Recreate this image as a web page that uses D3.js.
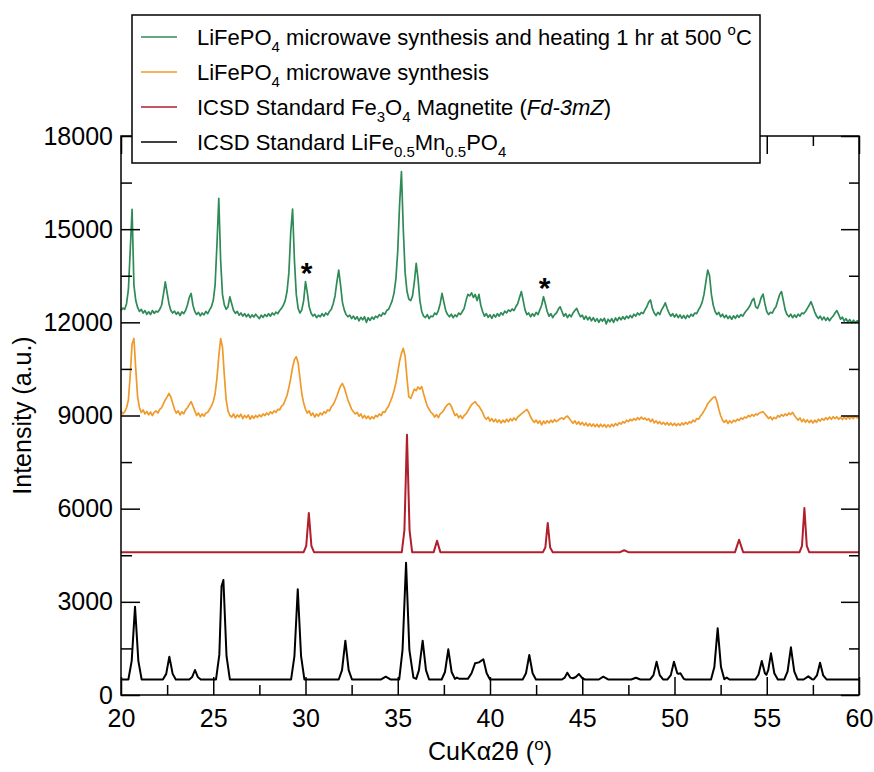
<!DOCTYPE html>
<html>
<head>
<meta charset="utf-8">
<script src="https://cdn.jsdelivr.net/npm/d3@7"></script>
<style>
  body { margin: 0; background: #fff; }
  svg { display: block; }
  text { font-family: "Liberation Sans", Arial, sans-serif; }
</style>
</head>
<body>
<div id="wrapper"></div>
<script>
// scan grid of the two measured patterns (2theta start / step)
const scanStart = 20;
const scanStep = 0.1;

// LiFePO4 microwave synthesis + 1 hr at 500 C (one value per 0.1 deg, 20 -> 60)
const heatedCounts = [
  12380,12460,12420,12600,13050,14300,15640,13200,12700,12480,
  12350,12420,12300,12380,12260,12340,12250,12380,12290,12360,
  12330,12420,12550,12900,13300,12950,12600,12380,12300,12360,
  12260,12330,12220,12340,12280,12380,12560,12800,12930,12550,
  12350,12250,12320,12210,12300,12240,12350,12280,12400,12500,
  12700,13200,14500,15990,14000,12900,12560,12420,12500,12820,
  12600,12380,12290,12350,12230,12300,12200,12280,12180,12260,
  12150,12240,12170,12260,12190,12120,12230,12160,12250,12190,
  12280,12200,12300,12240,12330,12280,12380,12450,12550,12700,
  13000,13600,14900,15650,14000,12900,12450,12300,12400,12700,
  13310,12950,12500,12300,12200,12260,12150,12230,12180,12280,
  12200,12300,12240,12350,12420,12600,12850,13300,13680,13200,
  12650,12400,12250,12180,12230,12120,12200,12100,12180,12050,
  12160,12080,12180,12000,12150,12060,12170,12100,12200,12150,
  12250,12200,12300,12260,12380,12420,12550,12700,12950,13400,
  14300,15800,16850,15000,13600,13000,12750,12700,12850,13300,
  13900,13400,12700,12350,12200,12150,12250,12120,12200,12180,
  12300,12250,12380,12600,12930,12650,12380,12250,12180,12260,
  12150,12240,12180,12300,12250,12350,12450,12700,12900,12850,
  12950,12800,12900,12700,12900,12550,12350,12200,12280,12160,
  12240,12130,12250,12170,12280,12200,12310,12240,12360,12300,
  12400,12350,12430,12380,12500,12600,12800,12990,12700,12400,
  12250,12300,12180,12280,12200,12320,12250,12400,12550,12825,
  12600,12350,12200,12280,12150,12250,12300,12420,12500,12350,
  12200,12280,12150,12250,12180,12300,12380,12450,12300,12180,
  12230,12100,12200,12080,12170,12050,12150,12030,12120,12000,
  12110,12040,12130,11950,12100,12020,12120,12000,12140,12050,
  12160,12080,12180,12100,12200,12130,12220,12150,12260,12200,
  12300,12240,12320,12280,12400,12500,12650,12720,12450,12300,
  12220,12320,12250,12400,12500,12630,12450,12300,12200,12280,
  12170,12260,12150,12240,12130,12220,12120,12230,12160,12260,
  12200,12300,12280,12400,12500,12650,12900,13300,13685,13500,
  12900,12550,12350,12250,12320,12180,12260,12150,12230,12120,
  12200,12100,12210,12130,12230,12160,12250,12200,12300,12380,
  12450,12550,12700,12770,12500,12450,12600,12800,12910,12600,
  12350,12250,12320,12300,12420,12500,12700,12900,12990,12700,
  12400,12250,12180,12260,12150,12240,12160,12260,12200,12300,
  12280,12350,12450,12550,12665,12500,12330,12200,12120,12200,
  12080,12170,12060,12150,12050,12140,12200,12300,12380,12250,
  12100,12170,12040,12120,12000,12090,11980,12070,11990,12050,
  12020
];

// LiFePO4 microwave synthesis (one value per 0.1 deg, 20 -> 60)
const microwaveCounts = [
  9150,9050,9120,9250,9500,10300,11300,11480,10500,9600,
  9250,9100,9180,9050,9130,9020,9110,9000,9100,9150,
  9080,9200,9250,9380,9500,9600,9715,9600,9400,9200,
  9080,9150,9020,9120,9050,9180,9250,9350,9445,9300,
  9150,9000,9080,8960,9050,8980,9080,9100,9200,9300,
  9450,9700,10200,10900,11480,11200,10300,9500,9150,9000,
  8950,9050,8920,9020,8950,9040,8900,9000,8930,9020,
  8880,8990,8910,9000,8940,9020,8960,9050,9000,9080,
  9020,9120,9060,9150,9100,9200,9180,9300,9350,9500,
  9650,9900,10200,10550,10800,10890,10700,10200,9700,9400,
  9200,9080,9150,9000,9080,8950,9050,8980,9080,9020,
  9120,9080,9180,9150,9280,9350,9480,9620,9800,9950,
  10030,9900,9700,9500,9350,9200,9120,9050,9100,8980,
  9050,8920,9000,8900,8980,8880,8960,8900,9000,8960,
  9050,9000,9120,9100,9220,9300,9450,9600,9800,10050,
  10400,10750,11000,11160,10900,10200,9600,9550,9700,9850,
  9800,9920,9850,9930,9700,9500,9300,9200,9100,9050,
  8950,9030,8930,9050,9100,9180,9280,9350,9390,9300,
  9150,9000,9050,8930,9000,8900,9000,9050,9150,9250,
  9350,9400,9445,9350,9300,9200,9100,8950,8880,8950,
  8820,8900,8800,8880,8780,8860,8760,8850,8780,8880,
  8800,8900,8830,8920,8850,8950,9000,9050,9100,9150,
  9195,9100,8950,8850,8780,8850,8750,8830,8700,8820,
  8740,8830,8760,8850,8780,8870,8800,8850,8900,8920,
  8880,8950,8980,8900,8820,8750,8830,8720,8800,8700,
  8780,8680,8760,8660,8740,8650,8730,8640,8720,8630,
  8720,8640,8710,8620,8700,8630,8720,8650,8740,8680,
  8770,8720,8800,8760,8850,8800,8880,8830,8900,8850,
  8930,8870,8950,8880,8920,8850,8900,8800,8880,8760,
  8830,8740,8800,8720,8780,8700,8770,8690,8760,8680,
  8750,8670,8740,8680,8760,8700,8780,8720,8800,8760,
  8850,8800,8900,8880,8980,9050,9150,9250,9380,9450,
  9520,9580,9605,9450,9200,9000,8850,8780,8850,8740,
  8830,8760,8850,8800,8880,8840,8920,8880,8950,8920,
  9000,8960,9030,8980,9050,9020,9080,9100,9120,9050,
  8980,8900,8960,8860,8940,8900,9000,8950,9030,8980,
  9050,9000,9080,9030,9100,9000,8920,8850,8920,8800,
  8880,8780,8860,8770,8850,8760,8850,8780,8880,8820,
  8900,8850,8930,8870,8950,8880,8960,8900,8960,8880,
  8940,8870,8950,8880,8960,8890,8970,8900,8980,8920,
  8940
];

// ICSD Fe3O4 magnetite reference pattern, [2theta, intensity]
const magnetitePoints = [
  [20,4600],[29.9,4600],[30.04,4800],[30.18,5860],[30.32,4800],[30.46,4600],
  [35.22,4600],[35.36,5300],[35.5,8380],[35.64,5300],[35.78,4600],
  [36.95,4600],[37.13,4970],[37.31,4600],
  [42.87,4600],[43.0,4750],[43.13,5540],[43.26,4750],[43.4,4600],
  [47.05,4600],[47.27,4660],[47.5,4600],
  [53.28,4600],[53.5,5000],[53.72,4600],
  [56.78,4600],[56.91,4800],[57.04,6020],[57.17,4800],[57.3,4600],[60,4600]
];

// ICSD LiFe0.5Mn0.5PO4 reference pattern, [2theta, intensity]
const olivinePoints = [
  [20,500],[20.4,500],[20.58,1100],[20.76,2845],[20.94,1100],[21.12,500],
  [22.27,500],[22.45,680],[22.62,1234],[22.8,680],[22.97,500],
  [23.7,500],[23.86,580],[24.01,805],[24.16,580],[24.32,500],
  [25.15,500],[25.33,1300],[25.45,3500],[25.55,3703],[25.72,1250],[25.9,500],
  [29.22,500],[29.4,1250],[29.58,3403],[29.76,1250],[29.94,500],
  [31.8,500],[31.98,800],[32.16,1749],[32.34,800],[32.52,500],
  [34.1,500],[34.35,590],[34.6,500],
  [35.08,500],[35.26,1450],[35.45,4260],[35.63,1450],[35.85,560],[36.0,520],
  [36.15,800],[36.35,1750],[36.53,800],[36.7,500],
  [37.38,500],[37.56,740],[37.74,1470],[37.92,740],[38.1,520],[38.2,560],[38.35,520],
  [38.8,520],[39.0,700],[39.19,1020],[39.4,1050],[39.64,1150],[39.82,700],[40.0,500],
  [41.77,500],[41.95,700],[42.13,1288],[42.31,700],[42.49,500],
  [43.9,500],[44.05,560],[44.19,718],[44.35,560],[44.5,540],[44.65,580],[44.82,676],[45.0,540],[45.15,500],
  [45.9,500],[46.14,590],[46.4,500],
  [47.65,500],[47.91,557],[48.15,500],
  [48.68,500],[48.86,640],[49.03,1073],[49.2,640],[49.38,500],
  [49.62,500],[49.8,640],[49.97,1073],[50.15,700],[50.22,680],[50.32,700],[50.5,520],[50.6,500],
  [51.98,500],[52.16,900],[52.34,2147],[52.52,900],[52.7,510],[52.83,560],[52.98,500],
  [54.38,500],[54.55,650],[54.73,1095],[54.9,700],[54.98,650],[55.08,800],[55.23,1342],[55.41,700],[55.6,500],
  [55.95,500],[56.13,760],[56.31,1535],[56.49,760],[56.67,500],
  [57.0,500],[57.25,600],[57.45,510],
  [57.55,500],[57.72,630],[57.89,1040],[58.06,630],[58.24,500],
  [60,500]
];

// peaks marked with an asterisk on the heated pattern: [2theta, peak intensity]
const starredPeaks = [[30.0, 13310], [42.9, 12825]];

const xTicks = [20, 25, 30, 35, 40, 45, 50, 55, 60];
const xMinorTicks = [22.5, 27.5, 32.5, 37.5, 42.5, 47.5, 52.5, 57.5];
const yTicks = [0, 3000, 6000, 9000, 12000, 15000, 18000];
const yMinorTicks = [1500, 4500, 7500, 10500, 13500, 16500];

const seriesNames = ["heated", "microwave", "magnetite", "olivine"];
const seriesColors = ["#2e8b57", "#ef9a2b", "#b01f2c", "#000000"];

function draw() {
  const width = 874, height = 772;
  const plot = { left: 121, right: 859, top: 136, bottom: 695 };

  const svg = d3.select("#wrapper")
    .append("svg")
      .attr("width", width)
      .attr("height", height)
      .attr("viewBox", "0 0 " + width + " " + height);

  const x = d3.scaleLinear().domain([20, 60]).range([plot.left, plot.right]);
  const y = d3.scaleLinear().domain([0, 18000]).range([plot.bottom, plot.top]);

  const line = d3.line().x(d => x(d[0])).y(d => y(d[1]));

  const scanPoints = counts => counts.map((v, i) => [scanStart + i * scanStep, v]);

  const series = {
    heated: scanPoints(heatedCounts),
    microwave: scanPoints(microwaveCounts),
    magnetite: magnetitePoints,
    olivine: olivinePoints
  };
  const widths = { heated: 1.7, microwave: 1.7, magnetite: 2, olivine: 2 };

  // draw from bottom to top
  seriesNames.slice().reverse().forEach(name => {
    svg.append("path")
      .attr("d", line(series[name]))
      .attr("fill", "none")
      .attr("stroke", seriesColors[seriesNames.indexOf(name)])
      .attr("stroke-width", widths[name])
      .attr("stroke-linejoin", "round");
  });

  // asterisks
  svg.selectAll("text.star")
    .data(starredPeaks)
    .join("text")
      .attr("class", "star")
      .attr("x", d => x(d[0]) + 1)
      .attr("y", d => y(d[1]) + 1)
      .attr("text-anchor", "middle")
      .attr("font-size", 30)
      .attr("font-weight", "bold")
      .text("*");

  // axes (inward ticks on all four sides)
  const styleAxis = g => {
    g.select(".domain").remove();
    g.selectAll(".tick line").attr("stroke", "#000").attr("stroke-width", 1.5);
    g.selectAll(".tick text").attr("fill", "#000").attr("font-size", 25)
      .attr("font-family", "'Liberation Sans', Arial, sans-serif");
  };

  svg.append("g")
    .attr("transform", "translate(0," + plot.bottom + ")")
    .call(d3.axisBottom(x).tickValues(xTicks).tickSize(-18).tickPadding(14).tickFormat(d3.format("d")))
    .call(styleAxis);
  svg.append("g")
    .attr("transform", "translate(0," + plot.bottom + ")")
    .call(d3.axisBottom(x).tickValues(xMinorTicks).tickSize(-10).tickFormat(""))
    .call(styleAxis);
  svg.append("g")
    .attr("transform", "translate(0," + plot.top + ")")
    .call(d3.axisTop(x).tickValues(xTicks).tickSize(-18).tickFormat(""))
    .call(styleAxis);
  svg.append("g")
    .attr("transform", "translate(0," + plot.top + ")")
    .call(d3.axisTop(x).tickValues(xMinorTicks).tickSize(-10).tickFormat(""))
    .call(styleAxis);

  svg.append("g")
    .attr("transform", "translate(" + plot.left + ",0)")
    .call(d3.axisLeft(y).tickValues(yTicks).tickSize(-19).tickPadding(8).tickFormat(d3.format("d")))
    .call(styleAxis);
  svg.append("g")
    .attr("transform", "translate(" + plot.left + ",0)")
    .call(d3.axisLeft(y).tickValues(yMinorTicks).tickSize(-11).tickFormat(""))
    .call(styleAxis);
  svg.append("g")
    .attr("transform", "translate(" + plot.right + ",0)")
    .call(d3.axisRight(y).tickValues(yTicks).tickSize(-18).tickFormat(""))
    .call(styleAxis);
  svg.append("g")
    .attr("transform", "translate(" + plot.right + ",0)")
    .call(d3.axisRight(y).tickValues(yMinorTicks).tickSize(-10).tickFormat(""))
    .call(styleAxis);

  svg.append("rect")
    .attr("x", plot.left)
    .attr("y", plot.top)
    .attr("width", plot.right - plot.left)
    .attr("height", plot.bottom - plot.top)
    .attr("fill", "none")
    .attr("stroke", "#000")
    .attr("stroke-width", 1.5);

  // axis titles
  const xTitle = svg.append("text")
    .attr("x", (plot.left + plot.right) / 2)
    .attr("y", 760)
    .attr("text-anchor", "middle")
    .attr("font-size", 25);
  xTitle.append("tspan").text("CuKα2θ (");
  xTitle.append("tspan").attr("font-size", 17).attr("dy", -10).text("o");
  xTitle.append("tspan").attr("dy", 10).text(")");

  svg.append("text")
    .attr("transform", "translate(31," + ((plot.top + plot.bottom) / 2) + ") rotate(-90)")
    .attr("text-anchor", "middle")
    .attr("font-size", 25)
    .text("Intensity (a.u.)");

  // legend
  const legend = svg.append("g");
  legend.append("rect")
    .attr("x", 132).attr("y", 15)
    .attr("width", 628).attr("height", 148)
    .attr("fill", "#fff")
    .attr("stroke", "#000")
    .attr("stroke-width", 1.5);

  const rowY = i => 37 + i * 35;
  seriesNames.forEach((name, i) => {
    legend.append("line")
      .attr("x1", 141).attr("x2", 177)
      .attr("y1", rowY(i)).attr("y2", rowY(i))
      .attr("stroke", seriesColors[i])
      .attr("stroke-width", 1.5);
  });

  const legendText = (i, parts) => {
    const t = legend.append("text")
      .attr("x", 197)
      .attr("y", rowY(i) + 8)
      .attr("font-size", 22);
    let shift = 0;
    parts.forEach(p => {
      const target = p.sub ? 7 : p.sup ? -10 : 0;
      const ts = t.append("tspan").attr("dy", target - shift).text(p.t);
      if (p.sub || p.sup) ts.attr("font-size", 15);
      if (p.it) ts.attr("font-style", "italic");
      shift = target;
    });
  };

  legendText(0, [{ t: "LiFePO" }, { t: "4", sub: true }, { t: " microwave synthesis and heating 1 hr at 500 " },
    { t: "o", sup: true }, { t: "C" }]);
  legendText(1, [{ t: "LiFePO" }, { t: "4", sub: true }, { t: " microwave synthesis" }]);
  legendText(2, [{ t: "ICSD Standard Fe" }, { t: "3", sub: true }, { t: "O" }, { t: "4", sub: true },
    { t: " Magnetite (" }, { t: "Fd-3mZ", it: true }, { t: ")" }]);
  legendText(3, [{ t: "ICSD Standard LiFe" }, { t: "0.5", sub: true }, { t: "Mn" }, { t: "0.5", sub: true },
    { t: "PO" }, { t: "4", sub: true }]);
}
draw();
</script>
</body>
</html>
